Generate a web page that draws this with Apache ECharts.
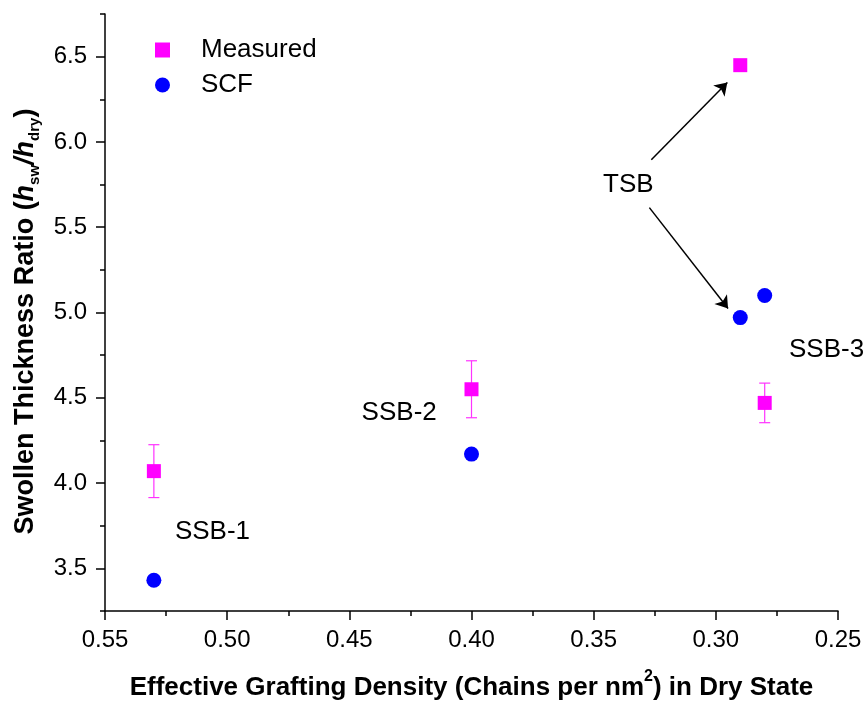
<!DOCTYPE html>
<html>
<head>
<meta charset="utf-8">
<script src="https://cdn.jsdelivr.net/npm/echarts@6/dist/echarts.min.js"></script>
<style>
  html, body { margin: 0; padding: 0; background: #fff; }
  #main { width: 868px; height: 702px; }
</style>
</head>
<body>
<div id="main"></div>
<script>
var samples = ['SSB-1', 'SSB-2', 'TSB', 'SSB-3'];
var density = [0.53, 0.40, 0.29, 0.28];
var measured = [4.07, 4.55, 6.45, 4.47];
var measuredErr = [0.155, 0.167, 0, 0.116];
var scf = [3.43, 4.17, 4.97, 5.10];

var xMajor = [0.25, 0.30, 0.35, 0.40, 0.45, 0.50, 0.55];
var xMinor = [0.275, 0.325, 0.375, 0.425, 0.475, 0.525];
var yMajor = [3.5, 4.0, 4.5, 5.0, 5.5, 6.0, 6.5];
var yMinor = [3.25, 3.75, 4.25, 4.75, 5.25, 5.75, 6.25, 6.75];

// annotation texts (data coords of their centres)
var noteText = ['SSB-1', 'SSB-2', 'SSB-3', 'TSB'];
var noteX = [0.506, 0.4296, 0.2547, 0.3358];
var noteY = [3.713, 4.41, 4.781, 5.75];
// TSB arrows: from -> to
var arrowFrom = [[0.3264, 5.896], [0.3272, 5.615]];
var arrowTo = [[0.2953, 6.348], [0.2950, 5.023]];

var FONT = "'Liberation Sans', Arial, sans-serif";
var myChart = echarts.init(document.getElementById('main'));

var measuredData = [], errData = [], scfData = [], noteData = [], arrowData = [];
for (var i = 0; i < density.length; i++) {
  measuredData.push([density[i], measured[i]]);
  errData.push([density[i], measured[i], measuredErr[i]]);
  scfData.push([density[i], scf[i]]);
}
for (var j = 0; j < noteText.length; j++) {
  noteData.push([noteX[j], noteY[j]]);
}
for (var k = 0; k < arrowFrom.length; k++) {
  arrowData.push({ coords: [arrowFrom[k], arrowTo[k]] });
}

//误差棒
function renderErr (params, api) {
  var x = api.value(0), y = api.value(1), e = api.value(2);
  if (!e) return null;
  var top = api.coord([x, y + e]);
  var bot = api.coord([x, y - e]);
  var w = 5.5;
  var st = { stroke: '#ff33ff', lineWidth: 1.2 };
  return {
    type: 'group',
    children: [
      { type: 'line', shape: { x1: top[0], y1: top[1], x2: bot[0], y2: bot[1] }, style: st },
      { type: 'line', shape: { x1: top[0] - w, y1: top[1], x2: top[0] + w, y2: top[1] }, style: st },
      { type: 'line', shape: { x1: bot[0] - w, y1: bot[1], x2: bot[0] + w, y2: bot[1] }, style: st }
    ]
  };
}

var axisBase = {
  type: 'value',
  splitLine: { show: false },
  axisLine: { onZero: false, lineStyle: { color: '#000', width: 1.5 } }
};

var option = {
  backgroundColor: '#fff',
  animation: false,
  textStyle: { fontFamily: FONT },
  grid: { left: 105, right: 30, top: 14, bottom: 91, outerBoundsMode: 'none' },
  legend: {
    data: ['Measured', 'SCF'],
    orient: 'vertical',
    left: 150,
    top: 32,
    itemWidth: 15,
    itemHeight: 15,
    itemGap: 9,
    textStyle: { fontFamily: FONT, fontSize: 26, color: '#000', lineHeight: 26, padding: [0, 0, 0, 26] }
  },
  xAxis: [
    Object.assign({}, axisBase, {
      min: 0.25, max: 0.55, inverse: true, position: 'bottom',
      axisTick: { customValues: xMajor, length: 9, lineStyle: { color: '#000', width: 1.5 } },
      axisLabel: {
        customValues: xMajor, margin: 17, fontSize: 24, color: '#000', fontFamily: FONT,
        formatter: function (v) { return v.toFixed(2); }
      },
      name: '{m|Effective Grafting Density (Chains per nm}{sup|2}{m|) in Dry State}',
      nameLocation: 'middle',
      nameGap: 58,
      nameTextStyle: {
        rich: {
          m: { fontFamily: FONT, fontSize: 26, fontWeight: 'bold', color: '#000', lineHeight: 32, verticalAlign: 'bottom' },
          sup: { fontFamily: FONT, fontSize: 16, fontWeight: 'bold', color: '#000', lineHeight: 16, verticalAlign: 'top' }
        }
      }
    }),
    Object.assign({}, axisBase, {
      min: 0.25, max: 0.55, inverse: true, position: 'bottom',
      axisLine: { show: false, onZero: false },
      axisTick: { customValues: xMinor, length: 5, lineStyle: { color: '#000', width: 1.5 } },
      axisLabel: { show: false }
    })
  ],
  yAxis: [
    Object.assign({}, axisBase, {
      min: 3.25, max: 6.75, position: 'left',
      axisTick: { customValues: yMajor, length: 9, lineStyle: { color: '#000', width: 1.5 } },
      axisLabel: {
        customValues: yMajor, margin: 18, fontSize: 24, color: '#000', fontFamily: FONT,
        formatter: function (v) { return v.toFixed(1); }
      },
      name: '{m|Swollen Thickness Ratio (}{hi|h}{sub|sw}{hi|/h}{sub|dry}{m|)}',
      nameLocation: 'middle',
      nameRotate: 90,
      nameGap: 55,
      nameTextStyle: {
        padding: [0, 18, 0, 0],
        rich: {
          m: { fontFamily: FONT, fontSize: 27, fontWeight: 'bold', color: '#000', lineHeight: 27, verticalAlign: 'top' },
          hi: { fontFamily: FONT, fontSize: 27, fontWeight: 'bold', fontStyle: 'italic', color: '#000', lineHeight: 27, verticalAlign: 'top' },
          sub: { fontFamily: FONT, fontSize: 15, fontWeight: 'bold', color: '#000', lineHeight: 15, verticalAlign: 'top', padding: [16, 0, 0, 0] }
        }
      }
    }),
    Object.assign({}, axisBase, {
      min: 3.25, max: 6.75, position: 'left',
      axisLine: { show: false, onZero: false },
      axisTick: { customValues: yMinor, length: 5, lineStyle: { color: '#000', width: 1.5 } },
      axisLabel: { show: false }
    })
  ],
  series: [
    {
      name: 'err',
      type: 'custom',
      renderItem: renderErr,
      data: errData,
      z: 1
    },
    {
      name: 'Measured',
      type: 'scatter',
      symbol: 'rect',
      symbolSize: 14,
      itemStyle: { color: '#ff00ff', opacity: 1 },
      data: measuredData,
      z: 3
    },
    {
      name: 'SCF',
      type: 'scatter',
      symbol: 'circle',
      symbolSize: 15,
      itemStyle: { color: '#0000ff', opacity: 1 },
      data: scfData,
      z: 3
    },
    {
      name: 'notes',
      type: 'scatter',
      symbolSize: 0,
      clip: false,
      silent: true,
      itemStyle: { opacity: 1 },
      label: {
        show: true,
        position: 'inside',
        fontFamily: FONT,
        fontSize: 26,
        color: '#000',
        formatter: function (p) { return noteText[p.dataIndex]; }
      },
      data: noteData,
      z: 4
    },
    {
      name: 'arrows',
      type: 'lines',
      coordinateSystem: 'cartesian2d',
      symbol: ['none', 'arrow'],
      symbolSize: [7, 12],
      lineStyle: { color: '#000', width: 1.5, opacity: 1, curveness: 0 },
      data: arrowData,
      z: 4
    }
  ]
};

myChart.setOption(option);
</script>
</body>
</html>
